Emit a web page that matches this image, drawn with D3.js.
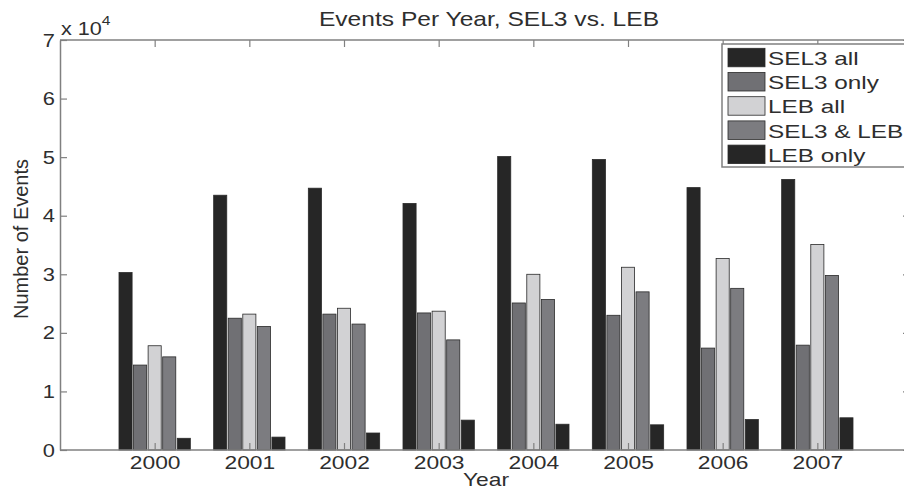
<!DOCTYPE html>
<html>
<head>
<meta charset="utf-8">
<script src="https://cdn.jsdelivr.net/npm/d3@7"></script>
<style>
  body { margin: 0; background: #fff; }
  svg text { font-family: "Liberation Sans", Arial, Helvetica, sans-serif; fill: #2e2e2e; }
</style>
</head>
<body>
<svg id="chart" width="904" height="490"></svg>
<script>
// Yearly event counts
const years = [2000, 2001, 2002, 2003, 2004, 2005, 2006, 2007];
const seriesNames = ["SEL3 all", "SEL3 only", "LEB all", "SEL3 & LEB", "LEB only"];
const sel3All   = [30300, 43500, 44700, 42100, 50100, 49600, 44800, 46200];
const sel3Only  = [14500, 22500, 23200, 23400, 25100, 23000, 17400, 17900];
const lebAll    = [17800, 23200, 24200, 23700, 30000, 31200, 32700, 35100];
const sel3AndLeb = [15900, 21100, 21500, 18800, 25700, 27000, 27600, 29800];
const lebOnly   = [2000, 2200, 2900, 5100, 4400, 4300, 5200, 5500];
const yTickValues = [0, 10000, 20000, 30000, 40000, 50000, 60000, 70000];
const seriesColors = ["#262626", "#707074", "#d2d2d4", "#7c7c80", "#262626"];

const seriesValues = [sel3All, sel3Only, lebAll, sel3AndLeb, lebOnly];

const svg = d3.select("#chart");
const plotLeft = 60, plotRight = 912, plotTop = 40, plotBottom = 450;

const x = d3.scaleLinear().domain([1999, 2008]).range([plotLeft, plotRight]);
const y = d3.scaleLinear().domain([0, 70000]).range([plotBottom, plotTop]);

// one slot per series inside each year group
const groupWidth = 0.769;
const sub = d3.scaleBand()
  .domain(seriesNames)
  .range([-groupWidth / 2, groupWidth / 2])
  .paddingInner(0.1)
  .paddingOuter(0.05);
const unit = x(2000) - x(1999);

// widen text glyphs horizontally by factor k
function stretch(sel, k) {
  sel.each(function () {
    const w = this.getComputedTextLength();
    d3.select(this).attr("textLength", w * k).attr("lengthAdjust", "spacingAndGlyphs");
  });
}

// bars
const rows = [];
seriesNames.forEach((name, si) => {
  years.forEach((yr, yi) => rows.push({ name, si, yr, v: seriesValues[si][yi] }));
});
svg.append("g").selectAll("rect").data(rows).join("rect")
  .attr("x", d => x(d.yr) + sub(d.name) * unit)
  .attr("width", sub.bandwidth() * unit)
  .attr("y", d => y(d.v))
  .attr("height", d => y(0) - y(d.v))
  .attr("fill", d => seriesColors[d.si])
  .attr("stroke", "#2a2a2a")
  .attr("stroke-width", 0.8);

// axes
const axisColor = "#808080";
const gBottom = svg.append("g").attr("transform", `translate(0,${plotBottom})`)
  .call(d3.axisBottom(x).tickValues(years).tickFormat(d3.format("d"))
    .tickSizeInner(-7).tickSizeOuter(0).tickPadding(6));
const gTop = svg.append("g").attr("transform", `translate(0,${plotTop})`)
  .call(d3.axisTop(x).tickValues(years).tickFormat("")
    .tickSizeInner(-7).tickSizeOuter(0));
const gLeft = svg.append("g").attr("transform", `translate(${plotLeft},0)`)
  .call(d3.axisLeft(y).tickValues(yTickValues).tickFormat(d => d / 10000)
    .tickSizeInner(-7).tickSizeOuter(0).tickPadding(5));
const gRight = svg.append("g").attr("transform", `translate(${plotRight},0)`)
  .call(d3.axisRight(y).tickValues(yTickValues).tickFormat("")
    .tickSizeInner(-9).tickSizeOuter(0));

[gBottom, gTop, gLeft, gRight].forEach(g => {
  g.select(".domain").attr("stroke", axisColor).attr("stroke-width", 1.5);
  g.selectAll(".tick line").attr("stroke", axisColor).attr("stroke-width", 1.2);
  g.selectAll(".tick text").attr("font-size", 19).attr("fill", "#2e2e2e")
    .attr("font-family", "Liberation Sans, Arial, sans-serif");
});
gBottom.select(".domain").attr("d", `M${plotLeft},0H${plotRight}`);
gTop.select(".domain").attr("d", `M${plotLeft},0H${plotRight}`);
stretch(gBottom.selectAll(".tick text"), 1.2);
stretch(gLeft.selectAll(".tick text"), 1.15);

// exponent marker on the value axis
const expo = svg.append("text").attr("x", 61).attr("y", 35).attr("font-size", 18);
expo.append("tspan").text("x 10");
expo.append("tspan").attr("font-size", 13).attr("dy", -10).text("4");
stretch(expo, 1.2);

// titles
const title = svg.append("text").attr("x", 489).attr("y", 26)
  .attr("text-anchor", "middle").attr("font-size", 21)
  .text("Events Per Year, SEL3 vs. LEB");
stretch(title, 1.17);

const xLabel = svg.append("text").attr("x", 486).attr("y", 486)
  .attr("text-anchor", "middle").attr("font-size", 19).text("Year");
stretch(xLabel, 1.2);

svg.append("text")
  .attr("transform", "translate(28,239) rotate(-90)")
  .attr("text-anchor", "middle").attr("font-size", 20)
  .text("Number of Events");

// legend
const legend = svg.append("g").attr("transform", "translate(722,44)");
legend.append("rect").attr("width", 200).attr("height", 123)
  .attr("fill", "#fff").attr("stroke", axisColor).attr("stroke-width", 1.5);
const items = legend.selectAll("g.item").data(seriesNames).join("g")
  .attr("class", "item")
  .attr("transform", (d, i) => `translate(0,${4.3 + i * 24.2})`);
items.append("rect").attr("x", 6).attr("width", 37).attr("height", 18.5)
  .attr("fill", (d, i) => seriesColors[i]).attr("stroke", "#2a2a2a").attr("stroke-width", 0.8);
const legendText = items.append("text").attr("x", 46).attr("y", 16.7)
  .attr("font-size", 19).text(d => d);
stretch(legendText, 1.28);
</script>
</body>
</html>
